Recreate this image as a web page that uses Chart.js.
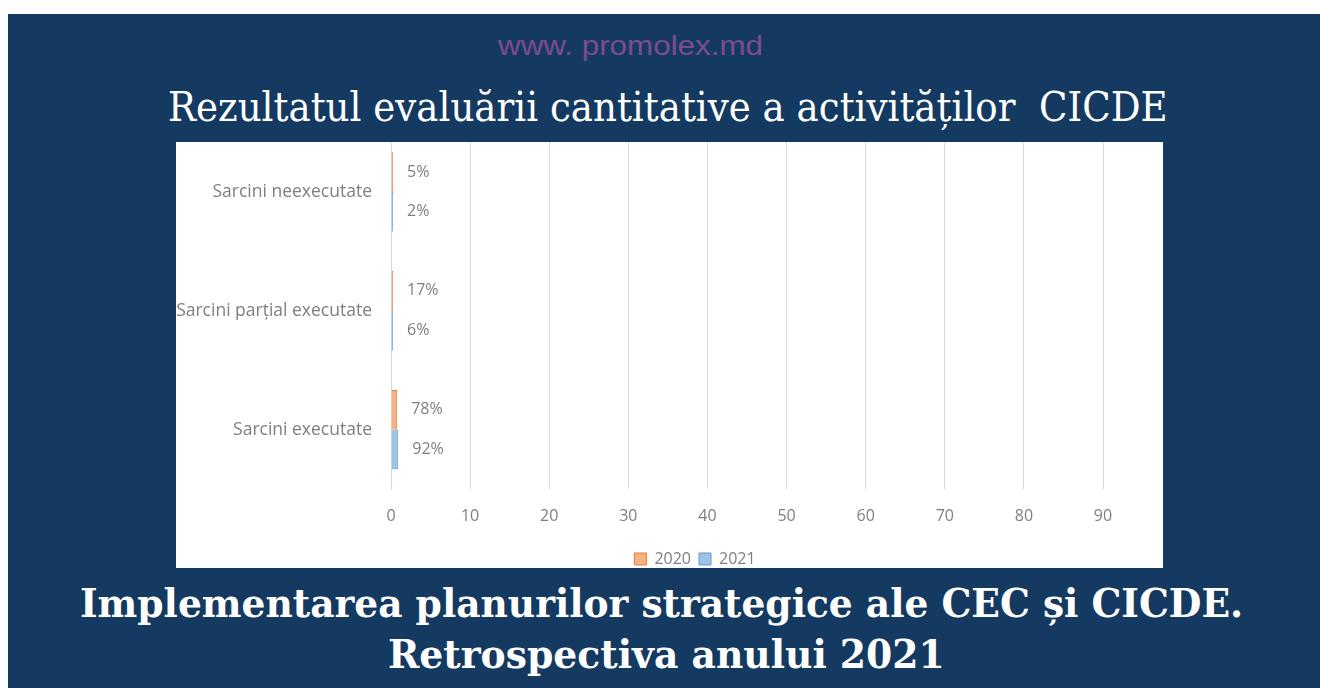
<!DOCTYPE html>
<html>
<head>
<meta charset="utf-8">
<script src="https://cdn.jsdelivr.net/npm/chart.js@4.4.1/dist/chart.umd.min.js"></script>
<style>
  html, body { margin: 0; padding: 0; background: #fff; }
  body { width: 1320px; height: 688px; position: relative; overflow: hidden; }
  #slide { position: absolute; left: 8px; top: 14px; width: 1312px; height: 674px; background: #153a61; }
  .txt { position: absolute; white-space: nowrap; line-height: 1; transform-origin: 0 0; }
  #site { font-family: "Liberation Sans", sans-serif; font-size: 27px; color: #7d4b8e; top: 33px; }
  #title { font-family: "DejaVu Serif", serif; font-size: 41px; color: #fff; top: 87px; }
  #sub1, #sub2 { font-family: "DejaVu Serif", serif; font-weight: bold; font-size: 40px; color: #fff; }
  #sub1 { top: 583px; }
  #sub2 { top: 634px; }
  #box { position: absolute; left: 176px; top: 142px; width: 987px; height: 426px; background: #fff; overflow: hidden; }
  /* canvas starts above the white box so the top of the plot is cut off, as in the picture */
  #wrap { position: absolute; left: 0; top: -39px; width: 987px; height: 474px; }
</style>
</head>
<body>
<div id="slide"></div>
<div class="txt" id="site" data-cx="630" data-w="265">www. promolex.md</div>
<div class="txt" id="title" data-cx="668" data-w="1000">Rezultatul evaluării cantitative a activităților&nbsp; CICDE</div>
<div class="txt" id="sub1" data-cx="661" data-w="1163">Implementarea planurilor strategice ale CEC și CICDE.</div>
<div class="txt" id="sub2" data-cx="666" data-w="557">Retrospectiva anului 2021</div>
<div id="box"><div id="wrap"><canvas id="chart"></canvas></div></div>
<script>
// data (shares, shown as percent labels)
const categories = ["Sarcini neexecutate", "Sarcini parțial executate", "Sarcini executate"];
const values2020 = [0.05, 0.17, 0.78];
const values2021 = [0.02, 0.06, 0.92];
const xTicks = [0, 10, 20, 30, 40, 50, 60, 70, 80, 90];

// squeeze slide texts to the widths seen in the picture
document.querySelectorAll(".txt").forEach(function (el) {
  const s = +el.dataset.w / el.offsetWidth;
  el.style.left = (+el.dataset.cx - el.dataset.w / 2) + "px";
  el.style.transform = "scaleX(" + s + ")";
});

const grey = "#7f7f7f";
const chartFont = { family: "'Open Sans', sans-serif", size: 16 };

// value labels to the right of each bar
const valueLabels = {
  id: "valueLabels",
  afterDatasetsDraw(chart) {
    const ctx = chart.ctx;
    ctx.save();
    ctx.font = "16px 'Open Sans', sans-serif";
    ctx.fillStyle = grey;
    ctx.textAlign = "left";
    ctx.textBaseline = "middle";
    chart.data.datasets.forEach(function (ds, i) {
      chart.getDatasetMeta(i).data.forEach(function (bar, j) {
        ctx.fillText(Math.round(ds.data[j] * 100) + "%", bar.x + 14, bar.y);
      });
    });
    ctx.restore();
  }
};

// move the legend to where it sits in the picture
const legendShift = {
  id: "legendShift",
  beforeDraw(chart) {
    const lg = chart.legend;
    const w = lg.right - lg.left;
    lg.left = 519 - w / 2;
    lg.right = 519 + w / 2;
  }
};

new Chart(document.getElementById("chart"), {
  type: "bar",
  data: {
    labels: categories,
    datasets: [
      {
        label: "2020",
        data: values2020,
        backgroundColor: "#f4b183",
        borderColor: "#ed7d31",
        borderWidth: 1,
        minBarLength: 2,
      },
      {
        label: "2021",
        data: values2021,
        backgroundColor: "#9dc3e6",
        borderColor: "#5b9bd5",
        borderWidth: 1,
        minBarLength: 2,
      },
    ],
  },
  options: {
    indexAxis: "y",
    responsive: true,
    maintainAspectRatio: false,
    animation: false,
    categoryPercentage: 0.667,
    barPercentage: 1.0,
    layout: { padding: { top: 0, right: 60, bottom: 0, left: 0 } },
    plugins: {
      legend: {
        position: "bottom",
        labels: {
          boxWidth: 12,
          boxHeight: 12,
          padding: 8,
          color: grey,
          font: chartFont,
        },
      },
      tooltip: { enabled: false },
    },
    scales: {
      x: {
        min: 0,
        max: 90,
        afterBuildTicks(scale) {
          scale.ticks = xTicks.map(function (v) { return { value: v }; });
        },
        grid: { color: "#d9d9d9", drawTicks: false },
        border: { display: false },
        ticks: { color: grey, padding: 18, font: chartFont },
        afterFit(scale) { scale.height = 54; },
      },
      y: {
        grid: { display: false, drawTicks: false },
        border: { display: true, color: "#d9d9d9" },
        ticks: { color: grey, padding: 19, font: { family: "'Open Sans', sans-serif", size: 17.5 } },
        afterFit(scale) { scale.width = 215; },
      },
    },
  },
  plugins: [valueLabels, legendShift],
});
</script>
</body>
</html>
